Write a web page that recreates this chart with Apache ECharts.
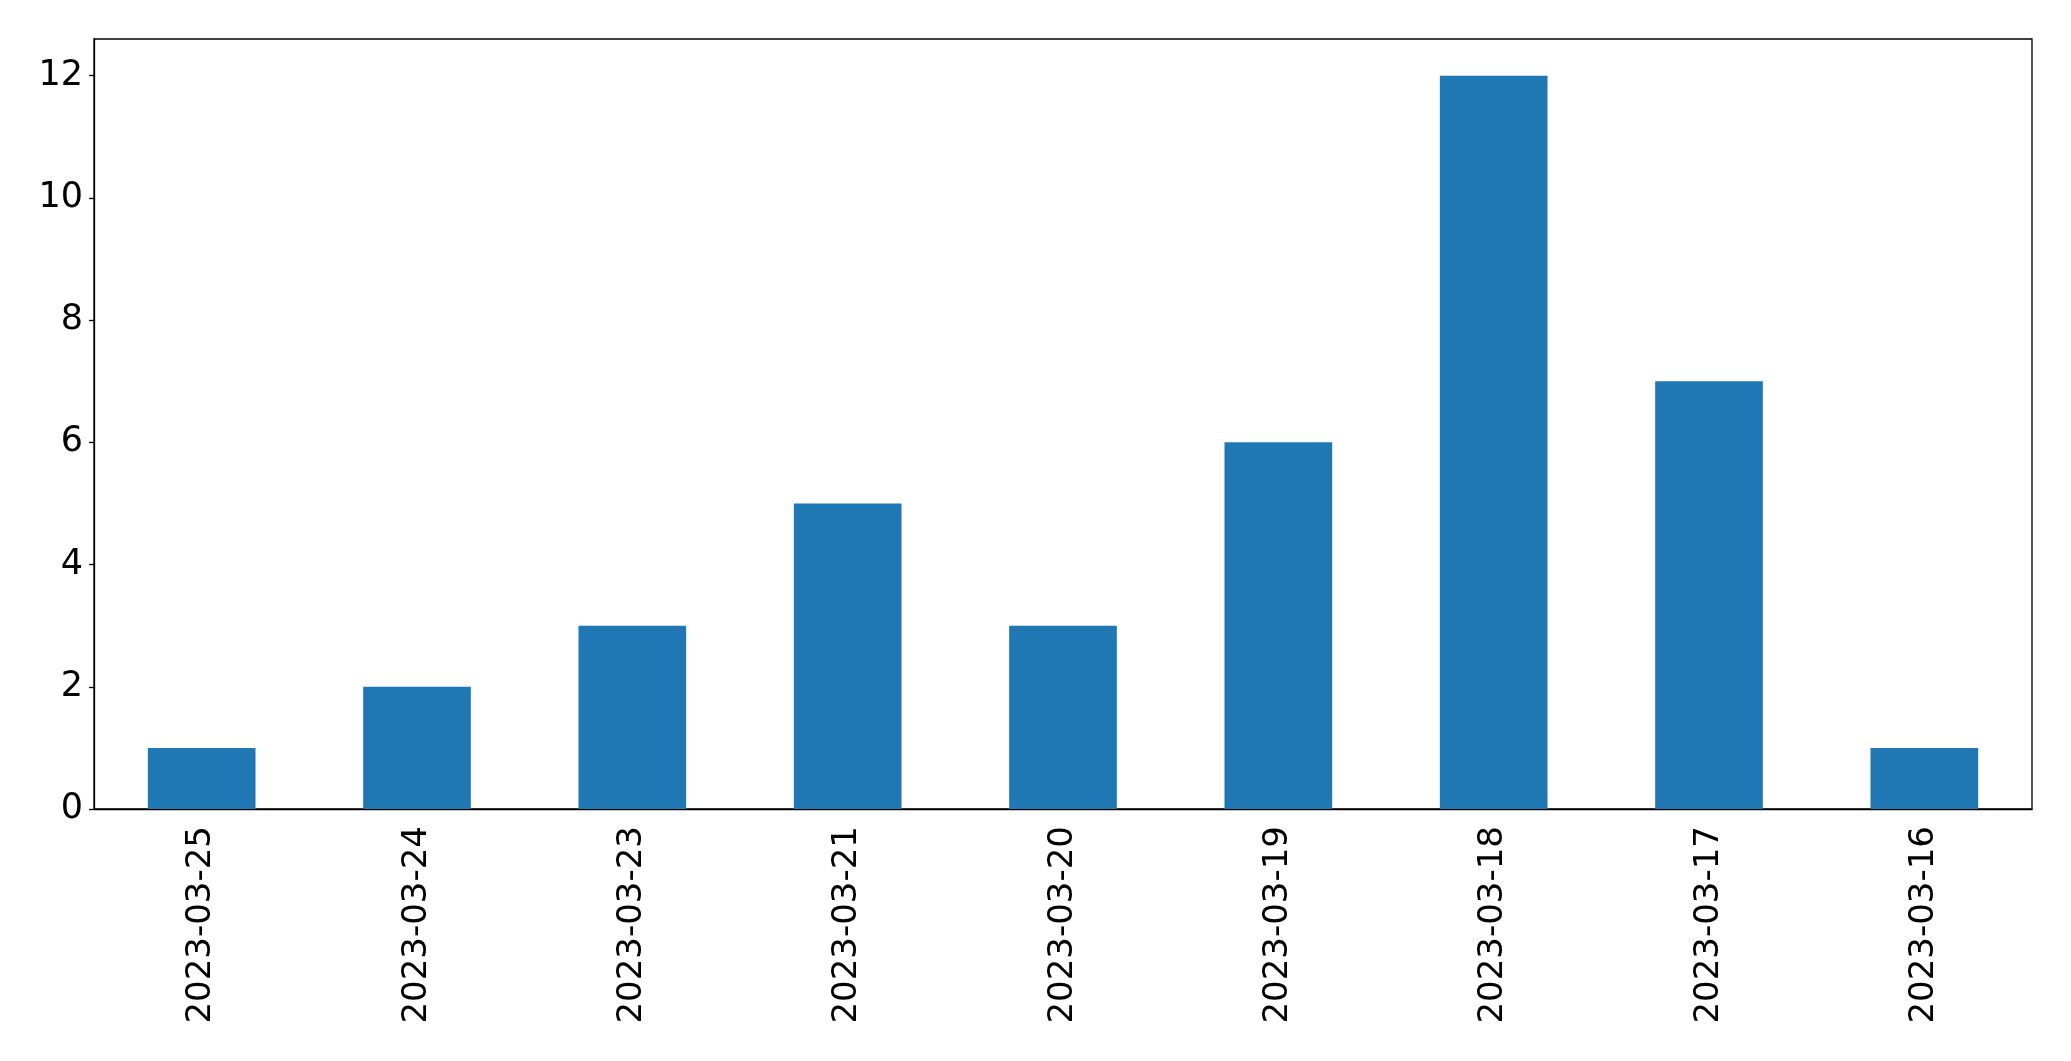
<!DOCTYPE html>
<html>
<head>
<meta charset="utf-8">
<script src="https://cdn.jsdelivr.net/npm/echarts@6/dist/echarts.min.js"></script>
<style>html,body{margin:0;padding:0;background:#fff;}#c{width:2071px;height:1061px;}</style>
</head>
<body>
<div id="c"></div>
<script>
const categories = ["2023-03-25","2023-03-24","2023-03-23","2023-03-21","2023-03-20","2023-03-19","2023-03-18","2023-03-17","2023-03-16"];
const counts = [1, 2, 3, 5, 3, 6, 12, 7, 1];
const yTicks = [0, 2, 4, 6, 8, 10, 12];

const chart = echarts.init(document.getElementById('c'), null, {renderer: 'canvas'});
chart.setOption({
  animation: false,
  backgroundColor: '#ffffff',
  grid: {left: 94, right: 39, top: 39, bottom: 252, show: true, borderColor: '#000', borderWidth: 1.3, backgroundColor: 'transparent'},
  xAxis: {
    type: 'category',
    data: categories,
    boundaryGap: true,
    axisLine: {lineStyle: {color: '#000', width: 1.3}},
    axisTick: {alignWithLabel: true, length: 6, lineStyle: {color: '#000', width: 1.3}},
    axisLabel: {rotate: 90, interval: 0, color: '#000', fontSize: 34, fontFamily: 'DejaVu Sans', margin: 17}
  },
  yAxis: {
    type: 'value',
    min: 0,
    max: 12.6,
    splitLine: {show: false},
    axisLine: {show: true, lineStyle: {color: '#000', width: 1.3}},
    axisTick: {show: true, length: 5, customValues: yTicks, lineStyle: {color: '#000', width: 1.3}},
    axisLabel: {customValues: yTicks, color: '#000', fontSize: 35, fontFamily: 'DejaVu Sans', margin: 11}
  },
  series: [{
    type: 'bar',
    data: counts,
    barWidth: '50%',
    itemStyle: {color: '#1f77b4'}
  }]
});
</script>
</body>
</html>
